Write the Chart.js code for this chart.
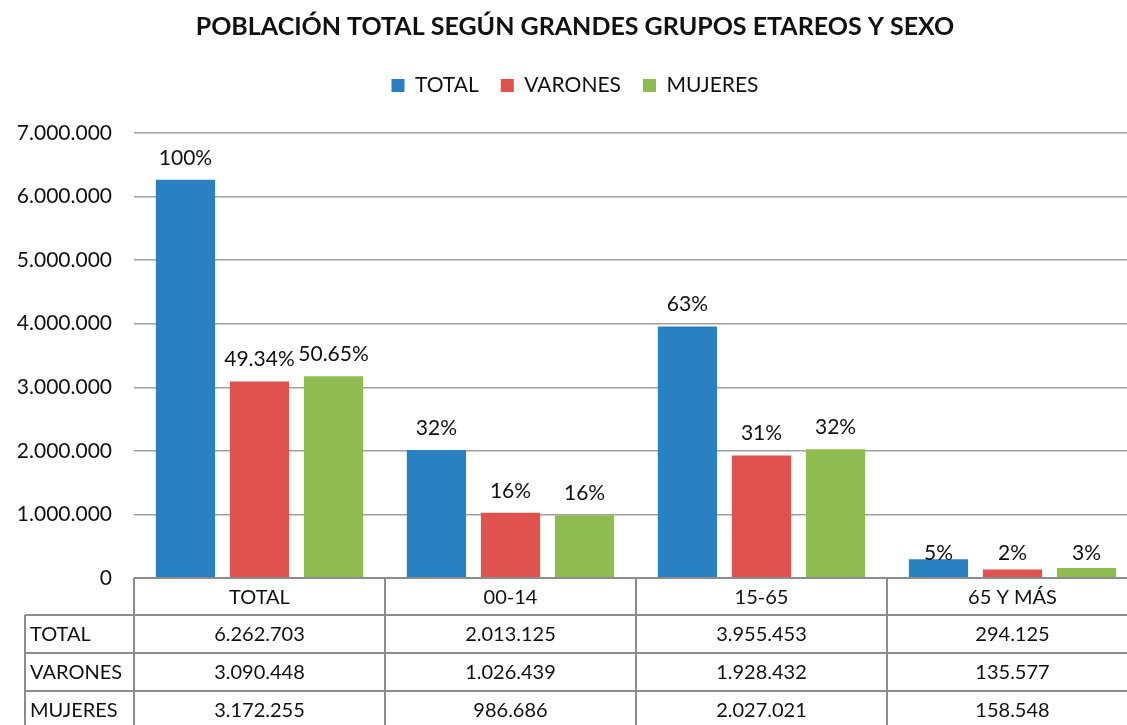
<!DOCTYPE html>
<html>
<head>
<meta charset="utf-8">
<script src="https://cdn.jsdelivr.net/npm/chart.js@4"></script>
<style>
  html, body { margin: 0; padding: 0; background: #fff; overflow: hidden; }
  #wrap { width: 1150px; height: 725px; }
</style>
</head>
<body>
<div id="wrap"><canvas id="barChart" width="1150" height="725"></canvas></div>
<script>
const categories = ["TOTAL", "00-14", "15-65", "65 Y MÁS"];
const totalValues = [6262703, 2013125, 3955453, 294125];
const varonesValues = [3090448, 1026439, 1928432, 135577];
const mujeresValues = [3172255, 986686, 2027021, 158548];
const totalPct = ["100%", "32%", "63%", "5%"];
const varonesPct = ["49.34%", "16%", "31%", "2%"];
const mujeresPct = ["50.65%", "16%", "32%", "3%"];

const FONT = "Lato, 'Noto Sans', sans-serif";
const TEXT = "#111111";

function fmt(v) {
  return String(v).replace(/\B(?=(\d{3})+(?!\d))/g, ".");
}

// más espacio entre la leyenda y el gráfico
const legendGap = {
  id: "legendGap",
  beforeInit(chart) {
    const fit = chart.legend.fit;
    chart.legend.fit = function () {
      fit.bind(chart.legend)();
      this.height += 27;
    };
  }
};

// etiquetas de porcentaje y tabla de datos
const tablePlugin = {
  id: "tablePlugin",
  afterDatasetsDraw(chart) {
    const ctx = chart.ctx;
    const y = chart.scales.y;
    const base = y.getPixelForValue(0);
    ctx.save();
    ctx.font = "21px " + FONT;
    ctx.fillStyle = TEXT;
    ctx.textAlign = "center";
    ctx.textBaseline = "middle";
    chart.data.datasets.forEach((ds, di) => {
      const meta = chart.getDatasetMeta(di);
      meta.data.forEach((bar, i) => {
        // barras muy bajas: etiqueta a altura fija, como en el original
        const ly = bar.y > base - 40 ? base - 25 : bar.y - 22;
        ctx.fillText(ds.pct[i], bar.x, ly);
      });
    });
    ctx.restore();
  },
  afterDraw(chart) {
    const ctx = chart.ctx;
    const x = chart.scales.x;
    const y = chart.scales.y;
    const area = chart.chartArea;
    const base = y.getPixelForValue(0);
    const half = (x.getPixelForValue(1) - x.getPixelForValue(0)) / 2;
    const rowH = 38;
    const headH = 37;
    const tableLeft = 25;
    const bottom = chart.height + 10;
    ctx.save();
    ctx.strokeStyle = "#8c8c8c";
    ctx.lineWidth = 2;
    ctx.beginPath();
    ctx.moveTo(area.left, base);
    ctx.lineTo(area.right, base);
    for (let r = 0; r < 3; r++) {
      const ry = base + headH + r * rowH;
      ctx.moveTo(tableLeft, ry);
      ctx.lineTo(area.right, ry);
    }
    ctx.moveTo(tableLeft, base + headH);
    ctx.lineTo(tableLeft, bottom);
    for (let i = 0; i <= categories.length; i++) {
      const cx = i < categories.length ? x.getPixelForValue(i) - half : x.getPixelForValue(i - 1) + half;
      ctx.moveTo(cx, base);
      ctx.lineTo(cx, bottom);
    }
    ctx.stroke();

    ctx.font = "20px " + FONT;
    ctx.fillStyle = TEXT;
    ctx.textBaseline = "middle";
    ctx.textAlign = "center";
    categories.forEach((c, i) => {
      ctx.fillText(c, x.getPixelForValue(i), base + headH / 2 + 1);
    });
    chart.data.datasets.forEach((ds, r) => {
      const ry = base + headH + r * rowH + rowH / 2 + 1;
      ctx.textAlign = "left";
      ctx.fillText(ds.label, tableLeft + 5, ry);
      ctx.textAlign = "center";
      ds.data.forEach((v, i) => {
        ctx.fillText(fmt(v), x.getPixelForValue(i), ry);
      });
    });
    ctx.restore();
  }
};

const data = {
  labels: categories,
  datasets: [
    { label: "TOTAL", data: totalValues, pct: totalPct, backgroundColor: "#2a81c2" },
    { label: "VARONES", data: varonesValues, pct: varonesPct, backgroundColor: "#df5250" },
    { label: "MUJERES", data: mujeresValues, pct: mujeresPct, backgroundColor: "#8fbc50" },
  ],
};

const options = {
  responsive: false,
  animation: false,
  layout: {
    padding: { left: 12, right: 12, top: 8, bottom: 147 },
  },
  datasets: {
    bar: { categoryPercentage: 0.885, barPercentage: 0.8 },
  },
  scales: {
    x: {
      ticks: { display: false },
      grid: { display: false, drawTicks: false },
      border: { display: false },
    },
    y: {
      min: 0,
      max: 7000000,
      afterFit: (scale) => { scale.width = 122; },
      ticks: {
        stepSize: 1000000,
        padding: 22,
        color: TEXT,
        font: { family: FONT, size: 21 },
        callback: (v) => fmt(v),
      },
      grid: { color: "#a0a0a0", lineWidth: 1.5, drawTicks: false },
      border: { display: false },
    },
  },
  plugins: {
    title: {
      display: true,
      text: "POBLACIÓN TOTAL SEGÚN GRANDES GRUPOS ETAREOS Y SEXO",
      color: TEXT,
      font: { family: FONT, size: 25, weight: "bold" },
      padding: { top: 4, bottom: 11 },
    },
    legend: {
      labels: {
        color: TEXT,
        font: { family: FONT, size: 21 },
        boxWidth: 13,
        boxHeight: 13,
        padding: 22,
      },
    },
    tooltip: { enabled: false },
  },
};

// グラフ生成
const ctx = document.getElementById("barChart").getContext("2d");
new Chart(ctx, { type: "bar", data: data, options: options, plugins: [legendGap, tablePlugin] });
</script>
</body>
</html>
